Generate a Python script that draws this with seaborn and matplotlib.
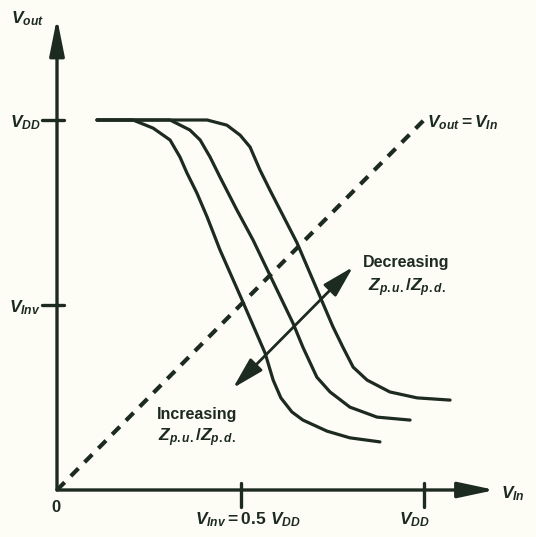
import numpy as np
import pandas as pd
import matplotlib
matplotlib.use("Agg")
import matplotlib.pyplot as plt
import seaborn as sns

sns.set_theme(style="white")
plt.rcParams["font.family"] = ["Liberation Sans", "DejaVu Sans"]
plt.rcParams["mathtext.fontset"] = "custom"
plt.rcParams["mathtext.it"] = "Liberation Sans:bold:italic"
plt.rcParams["mathtext.rm"] = "Liberation Sans:bold"
plt.rcParams["mathtext.bf"] = "Liberation Sans:bold"

# ---- data (normalised to V_DD = 1) ----
vin_left = [0.109, 0.207, 0.262, 0.308, 0.335, 0.354, 0.381, 0.409, 0.444, 0.504,
            0.567, 0.589, 0.610, 0.640, 0.670, 0.736, 0.798, 0.880]
vout_left = [1.000, 1.000, 0.978, 0.946, 0.900, 0.857, 0.803, 0.738, 0.649, 0.514,
             0.370, 0.297, 0.249, 0.211, 0.189, 0.159, 0.141, 0.130]

vin_mid = [0.109, 0.308, 0.362, 0.390, 0.417, 0.444, 0.490, 0.534, 0.580, 0.643,
           0.670, 0.708, 0.744, 0.798, 0.872, 0.962]
vout_mid = [1.000, 1.000, 0.973, 0.946, 0.900, 0.846, 0.757, 0.676, 0.581, 0.451,
            0.386, 0.305, 0.265, 0.224, 0.197, 0.189]

vin_right = [0.109, 0.409, 0.463, 0.499, 0.526, 0.553, 0.580, 0.654, 0.717, 0.752,
             0.779, 0.807, 0.845, 0.907, 0.981, 1.071]
vout_right = [1.000, 1.000, 0.986, 0.959, 0.927, 0.865, 0.811, 0.668, 0.522, 0.441,
              0.386, 0.332, 0.297, 0.265, 0.249, 0.243]

diag_vin = [0.0, 1.0]
diag_vout = [0.0, 1.0]

x_ticks = [0.5, 1.0]
x_tick_labels = [r"$V_{Inv}=0.5\ V_{DD}$", r"$V_{DD}$"]
y_ticks = [0.5, 1.0]
y_tick_labels = [r"$V_{Inv}$", r"$V_{DD}$"]

ink = "#1c2a1f"
bg = "#fdfdf6"

df = pd.concat([
    pd.DataFrame({"vin": vin_left, "vout": vout_left, "curve": "a"}),
    pd.DataFrame({"vin": vin_mid, "vout": vout_mid, "curve": "b"}),
    pd.DataFrame({"vin": vin_right, "vout": vout_right, "curve": "c"}),
], ignore_index=True)

# pixel -> data mapping helpers (layout only)
X0, XS = 57, 367
Y0, YS = 490, 370
def dx(p):
    return (p - X0) / XS
def dy(p):
    return (Y0 - p) / YS

fig = plt.figure(figsize=(5.36, 5.37), dpi=100, facecolor=bg)
ax = fig.add_axes([0, 0, 1, 1])
ax.set_facecolor(bg)
ax.set_xlim(dx(0), dx(536))
ax.set_ylim(dy(537), dy(0))
ax.axis("off")

sns.lineplot(data=df, x="vin", y="vout", units="curve", estimator=None, sort=False,
             color=ink, lw=2.3, ax=ax, legend=False, solid_joinstyle="round", solid_capstyle="round")

ax.plot(diag_vin, diag_vout, color=ink, lw=3.0, dashes=(2.6, 2.1), dash_capstyle="butt")

# axes with arrowheads
ax.annotate("", xy=(dx(495), 0), xytext=(0, 0),
            arrowprops=dict(arrowstyle="-|>,head_length=1.5,head_width=0.32", mutation_scale=15,
                            color=ink, lw=2.4, shrinkA=0, shrinkB=0))
ax.annotate("", xy=(0, dy(18)), xytext=(0, 0),
            arrowprops=dict(arrowstyle="-|>,head_length=1.5,head_width=0.3", mutation_scale=15,
                            color=ink, lw=2.4, shrinkA=0, shrinkB=0))

# ticks
for t in x_ticks:
    ax.plot([t, t], [dy(483), dy(507)], color=ink, lw=2.4)
for t in y_ticks:
    ax.plot([dx(42), dx(64)], [t, t], color=ink, lw=2.4)

fs = 12.5
for t, lab in zip(x_ticks, x_tick_labels):
    cx = 248 if t == 0.5 else 414
    ax.text(dx(cx), dy(520), lab, ha="center", va="center", fontsize=fs, color=ink)
for t, lab in zip(y_ticks, y_tick_labels):
    ax.text(dx(41), t - 0.006, lab, ha="right", va="center", fontsize=fs, color=ink)

ax.text(dx(56), dy(508), "0", ha="center", va="center", fontsize=12, fontweight="bold", color=ink)
ax.text(dx(11), dy(19), r"$V_{out}$", ha="left", va="center", fontsize=fs, color=ink)
ax.text(dx(501), dy(494), r"$V_{In}$", ha="left", va="center", fontsize=fs, color=ink)
ax.text(dx(427), dy(123), r"$V_{out}=V_{In}$", ha="left", va="center", fontsize=fs, color=ink)

# double arrow
ax.annotate("", xy=(dx(353), dy(267)), xytext=(dx(233), dy(388)),
            arrowprops=dict(arrowstyle="<|-|>,head_length=1.3,head_width=0.35", mutation_scale=15,
                            color=ink, lw=2.0, shrinkA=0, shrinkB=0))

ax.text(dx(406), dy(262), "Decreasing", ha="center", va="center", fontsize=11.5,
        fontweight="bold", color=ink)
ax.text(dx(407), dy(288), r"$Z_{p.u.}/Z_{p.d.}$", ha="center", va="center", fontsize=12.5, color=ink)
ax.text(dx(197), dy(414), "Increasing", ha="center", va="center", fontsize=11.5,
        fontweight="bold", color=ink)
ax.text(dx(197), dy(438), r"$Z_{p.u.}/Z_{p.d.}$", ha="center", va="center", fontsize=12.5, color=ink)

fig.savefig("out.png", dpi=100, facecolor=bg)
